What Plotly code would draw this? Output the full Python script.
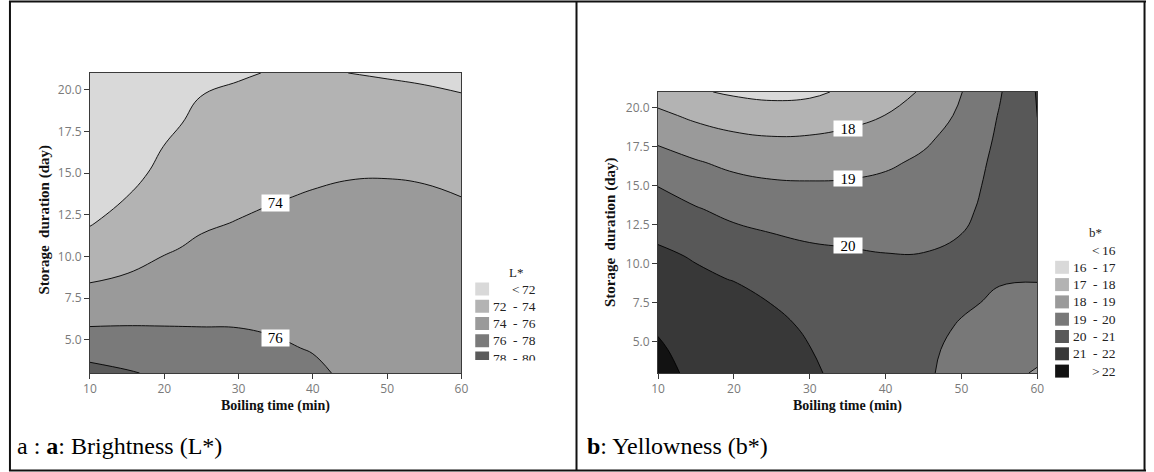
import plotly.graph_objects as go

W, H = 1154, 472

# ---------------- data ----------------
boil_time = [10, 15, 20, 25, 30, 35, 40, 45, 50, 55, 60]               # min
storage_days = [3, 4.5, 6, 7.5, 9, 10.5, 12, 13.5, 15, 16.5, 18, 19.5, 21]  # day

# L*, one list per boiling time (values along storage_days)
L_by_time = {
    10: [78.6, 77.2, 75.8, 74.62, 73.6, 72.74, 71.89, 71.03, 70.17, 69.3, 68.5, 67.6, 66.8],
    15: [78.15, 77.0, 75.88, 74.94, 73.98, 73.35, 72.7, 72.04, 71.4, 70.8, 70.1, 69.5, 68.9],
    20: [77.7, 76.78, 75.89, 75.17, 74.44, 73.82, 73.37, 72.93, 72.48, 72.06, 71.62, 71.15, 70.7],
    25: [77.3, 76.6, 75.89, 75.35, 74.8, 74.25, 73.81, 73.45, 73.09, 72.73, 72.4, 72.04, 71.68],
    30: [77.1, 76.5, 75.88, 75.42, 74.97, 74.52, 74.06, 73.69, 73.34, 72.99, 72.64, 72.3, 71.85],
    35: [76.9, 76.18, 75.78, 75.41, 75.04, 74.67, 74.3, 73.93, 73.57, 73.22, 72.86, 72.5, 72.1],
    40: [76.3, 75.91, 75.61, 75.31, 75.01, 74.72, 74.42, 74.12, 73.77, 73.37, 72.98, 72.59, 72.2],
    45: [75.7, 75.55, 75.4, 75.15, 74.92, 74.68, 74.43, 74.18, 73.93, 73.41, 72.94, 72.47, 71.99],
    50: [75.6, 75.4, 75.2, 74.99, 74.78, 74.57, 74.36, 74.17, 73.95, 73.41, 72.9, 72.39, 71.88],
    55: [75.5, 75.3, 75.1, 74.9, 74.72, 74.53, 74.3, 74.13, 73.9, 73.29, 72.78, 72.27, 71.76],
    60: [75.4, 75.2, 75.0, 74.8, 74.6, 74.4, 74.22, 74.02, 73.55, 73.06, 72.58, 72.1, 71.61],
}

# b*, one list per boiling time (values along storage_days)
b_by_time = {
    10: [22.4, 22.14, 21.89, 21.65, 21.4, 21.15, 20.84, 20.41, 19.98, 19.42, 18.83, 18.2, 17.56],
    15: [21.7, 21.6, 21.48, 21.35, 21.15, 20.93, 20.49, 20.06, 19.57, 19.07, 18.46, 17.81, 17.1],
    20: [21.7, 21.6, 21.45, 21.3, 20.97, 20.58, 20.18, 19.75, 19.29, 18.78, 18.19, 17.55, 16.88],
    25: [21.6, 21.45, 21.25, 20.98, 20.65, 20.33, 19.99, 19.57, 19.14, 18.63, 18.07, 17.42, 16.76],
    30: [21.08, 21.02, 20.86, 20.61, 20.38, 20.16, 19.88, 19.49, 19.1, 18.61, 18.1, 17.47, 16.83],
    35: [20.85, 20.7, 20.55, 20.4, 20.25, 20.08, 19.86, 19.47, 19.12, 18.68, 18.21, 17.75, 17.15],
    40: [20.7, 20.6, 20.45, 20.3, 20.15, 20.03, 19.79, 19.5, 19.2, 18.87, 18.44, 18.01, 17.6],
    45: [20.2, 20.25, 20.28, 20.2, 20.12, 20.03, 19.82, 19.6, 19.37, 19.14, 18.86, 18.48, 18.1],
    50: [19.55, 19.7, 19.93, 20.12, 20.2, 20.12, 19.99, 19.82, 19.66, 19.49, 19.32, 19.15, 18.98],
    55: [19.35, 19.55, 19.72, 19.88, 20.05, 20.2, 20.3, 20.32, 20.3, 20.25, 20.15, 20.05, 19.92],
    60: [18.9, 19.3, 19.55, 19.8, 20.03, 20.25, 20.45, 20.6, 20.72, 20.82, 20.9, 21.01, 21.06],
}

L_levels = [72, 74, 76, 78]
b_levels = [16, 17, 18, 19, 20, 21, 22]

L_colors = ["#d9d9d9", "#b3b3b3", "#9a9a9a", "#7a7a7a", "#5a5a5a"]
b_colors = ["#ffffff", "#d9d9d9", "#b3b3b3", "#9a9a9a", "#787878", "#585858", "#383838", "#121212"]

L_legend_rows = [("", "<", "72"), ("72", "-", "74"), ("74", "-", "76"), ("76", "-", "78"), ("78", "-", "80")]
L_legend_swatch = [True, True, True, True, True]
b_legend_rows = [("", "<", "16"), ("16", "-", "17"), ("17", "-", "18"), ("18", "-", "19"),
                 ("19", "-", "20"), ("20", "-", "21"), ("21", "-", "22"), ("", ">", "22")]
b_legend_swatch = [False, True, True, True, True, True, True, True]

L_labels = [("74", 35.0, 13.2), ("76", 35.0, 5.13)]
b_labels = [("18", 35.0, 18.68), ("19", 35.0, 15.44), ("20", 35.0, 11.18)]

x_ticks = [10, 20, 30, 40, 50, 60]
y_ticks = [5.0, 7.5, 10.0, 12.5, 15.0, 17.5, 20.0]

# ---------------- helpers ----------------
def grid(by_time):
    return [[by_time[t][i] for t in boil_time] for i in range(len(storage_days))]

def scale(colors):
    n = len(colors) - 1
    return [[k / n, c] for k, c in enumerate(colors)]

def px(x):
    return x / W

def py(y):
    return 1 - y / H

SERIF = "Liberation Serif, Times New Roman, serif"
SANS = "Open Sans, Arial, sans-serif"

fig = go.Figure()

fig.add_trace(go.Contour(
    x=boil_time, y=storage_days, z=grid(L_by_time),
    contours=dict(start=L_levels[0], end=L_levels[-1], size=L_levels[1] - L_levels[0],
                  coloring="fill", showlabels=False),
    colorscale=scale(L_colors), showscale=False,
    line=dict(color="black", width=0.9, smoothing=1.2),
    hoverinfo="skip", xaxis="x", yaxis="y"))

fig.add_trace(go.Contour(
    x=boil_time, y=storage_days, z=grid(b_by_time),
    contours=dict(start=b_levels[0], end=b_levels[-1], size=b_levels[1] - b_levels[0],
                  coloring="fill", showlabels=False),
    colorscale=scale(b_colors), showscale=False,
    line=dict(color="black", width=0.9, smoothing=1.2),
    hoverinfo="skip", xaxis="x2", yaxis="y2"))

# plot area pixel boxes
L_box = (84, 460, 73, 373)     # x0, x1, ytop, ybottom
b_box = (659, 1043, 92, 373)

axis_common = dict(showline=True, mirror=True, linecolor="#3a3a3a", linewidth=1,
                   ticks="outside", ticklen=5, tickcolor="#3a3a3a", showgrid=False,
                   zeroline=False, tickfont=dict(family=SANS, size=12, color="#7a7a7a"))

fig.update_layout(
    width=W, height=H, margin=dict(l=0, r=0, t=0, b=0),
    paper_bgcolor="white", plot_bgcolor="white", showlegend=False,
    xaxis=dict(domain=[px(L_box[0]), px(L_box[1])], range=[10, 60], tickvals=x_ticks,
               anchor="y", **axis_common),
    yaxis=dict(domain=[py(L_box[3]), py(L_box[2])], range=[3, 21], tickvals=y_ticks,
               tickformat=".1f", anchor="x", **axis_common),
    xaxis2=dict(domain=[px(b_box[0]), px(b_box[1])], range=[10, 60], tickvals=x_ticks,
                anchor="y2", **axis_common),
    yaxis2=dict(domain=[py(b_box[3]), py(b_box[2])], range=[3, 21], tickvals=y_ticks,
                tickformat=".1f", anchor="x2", **axis_common),
)

ann = []
shapes = []

# contour labels
for txt, xv, yv in L_labels:
    ann.append(dict(x=xv, y=yv, xref="x", yref="y", text=txt, showarrow=False,
                    bgcolor="white", width=27, height=16, borderpad=0,
                    font=dict(family=SERIF, size=15, color="black")))
for txt, xv, yv in b_labels:
    ann.append(dict(x=xv, y=yv, xref="x2", yref="y2", text=txt, showarrow=False,
                    bgcolor="white", width=28, height=15, borderpad=0,
                    font=dict(family=SERIF, size=15, color="black")))

# axis titles
def title(text, x, y, size, angle=0):
    ann.append(dict(x=px(x), y=py(y), xref="paper", yref="paper", text="<b>" + text + "</b>",
                    showarrow=False, textangle=angle, xanchor="center", yanchor="middle",
                    font=dict(family=SERIF, size=size, color="#111")))

title("Storage  duration (day)", 37, (L_box[2] + L_box[3]) / 2 - 3, 15, -90)
title("Boiling time (min)", (L_box[0] + L_box[1]) / 2, 406, 14)
title("Storage  duration (day)", 611, (b_box[2] + b_box[3]) / 2, 15, -90)
title("Boiling time (min)", (b_box[0] + b_box[1]) / 2, 406, 14)

# legends
def legend(title_txt, title_xy, rows, swatches, colors, right_edge, first_y, pitch, clip=None):
    ann.append(dict(x=px(title_xy[0]), y=py(title_xy[1]), xref="paper", yref="paper",
                    text=title_txt, showarrow=False, xanchor="center", yanchor="middle",
                    font=dict(family=SERIF, size=13, color="#222")))
    for i, ((lo, sym, hi), sw) in enumerate(zip(rows, swatches)):
        yc = first_y + i * pitch
        if sw:
            top = yc - 6.5
            bot = yc + 6.5
            if clip is not None:
                bot = min(bot, clip)
            shapes.append(dict(type="rect", xref="paper", yref="paper",
                               x0=px(right_edge - 64), x1=px(right_edge - 50),
                               y0=py(bot), y1=py(top), fillcolor=colors[i], line=dict(width=0)))
        f = dict(family=SERIF, size=13.5, color="#222")
        if lo:
            ann.append(dict(x=px(right_edge - 30), y=py(yc), xref="paper", yref="paper", text=lo,
                            showarrow=False, xanchor="right", yanchor="middle", font=f))
        ann.append(dict(x=px(right_edge - 23), y=py(yc), xref="paper", yref="paper", text=sym,
                        showarrow=False, xanchor="center", yanchor="middle", font=f))
        ann.append(dict(x=px(right_edge), y=py(yc), xref="paper", yref="paper", text=hi,
                        showarrow=False, xanchor="right", yanchor="middle", font=f))
    if clip is not None:
        ann.append(dict(x=px(right_edge - 70), y=py(clip), xref="paper", yref="paper",
                        text="\u00a0", showarrow=False, xanchor="left", yanchor="top",
                        width=80, height=10, bgcolor="white", borderpad=0,
                        font=dict(size=6)))

legend("L*", (515, 272.5), L_legend_rows, L_legend_swatch, L_colors, 538, 289, 17.25, clip=360)
legend("b*", (1101.5, 232), b_legend_rows, b_legend_swatch, b_colors, 1125, 250, 17.3)

# captions
ann.append(dict(x=px(8), y=py(446), xref="paper", yref="paper",
                text="a : <b>a</b>: Brightness (L*)", showarrow=False,
                xanchor="left", yanchor="middle", font=dict(family=SERIF, size=24, color="black")))
ann.append(dict(x=px(585), y=py(446), xref="paper", yref="paper",
                text="<b>b</b>: Yellowness (b*)", showarrow=False,
                xanchor="left", yanchor="middle", font=dict(family=SERIF, size=24, color="black")))

# table frame
def line(x0, y0, x1, y1):
    shapes.append(dict(type="line", xref="paper", yref="paper", x0=px(x0), y0=py(y0),
                       x1=px(x1), y1=py(y1), line=dict(color="#111", width=2)))

line(2, 1.5, 1153, 1.5)
line(2, 470.5, 1153, 470.5)
line(3, 1, 3, 471)
line(576.5, 1, 576.5, 471)
line(1151.5, 1, 1151.5, 471)

fig.update_layout(annotations=ann, shapes=shapes)
fig.write_html("out.html")
